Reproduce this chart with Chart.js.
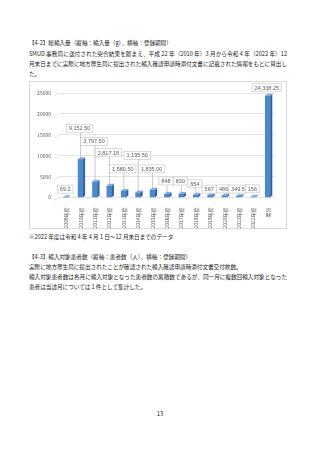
<!DOCTYPE html>
<html>
<head>
<meta charset="utf-8">
<script src="https://cdn.jsdelivr.net/npm/chart.js@4"></script>
<style>
  html, body { margin: 0; padding: 0; background: #fff; }
  body { width: 320px; height: 453px; position: relative; overflow: hidden;
         font-family: "Noto Sans CJK JP", "Noto Sans", sans-serif; color: #1a1a1a; }
  .ln { position: absolute; left: 29px; width: 258px; font-size: 5.6px; line-height: 8px; white-space: nowrap; }
  .just { text-align: justify; text-align-last: justify; }
  #box { position: absolute; left: 29px; top: 81px; width: 256px; height: 146px; border: 1px solid #d9d9d9; }
  #pg { position: absolute; left: 0; width: 320px; top: 409px; text-align: center; font-size: 6px; }
</style>
</head>
<body>
<div class="ln" style="top:39px">【4-2】総輸入量（縦軸：輸入量（g）、横軸：登録期間）</div>
<div class="ln just" style="top:50px">SMUD 事務局に送付された突合結果を踏まえ、平成 22 年（2010 年）3 月から令和 4 年（2022 年）12</div>
<div class="ln just" style="top:60px">月末日までに実際に地方厚生局に提出された輸入確認申請時添付文書に記載された情報をもとに算出し</div>
<div class="ln" style="top:70px">た。</div>

<div id="box"><canvas id="c" width="256" height="146"></canvas></div>

<div class="ln" style="top:233px">※2022 年度は令和 4 年 4 月 1 日～12 月末日までのデータ</div>
<div class="ln" style="top:253px">【4-3】輸入対象患者数（縦軸：患者数（人）、横軸：登録期間）</div>
<div class="ln" style="top:263px">実際に地方厚生局に提出されたことが確認された輸入確認申請時添付文書交付枚数。</div>
<div class="ln just" style="top:273px">輸入対象患者数は各月に輸入対象となった患者数の累積数であるが、同一月に複数回輸入対象となった</div>
<div class="ln" style="top:283px">患者は当該月については 1 件として集計した。</div>
<div id="pg">13</div>

<script>
const periods = ['2009年度', '2010年度', '2011年度', '2012年度', '2013年度', '2014年度', '2015年度',
  '2016年度', '2017年度', '2018年度', '2019年度', '2020年度', '2021年度', '2022年度', '累計'];
const importGrams = [69.2, 9152.5, 3797.5, 2817.15, 1580.5, 1195.5, 1835, 848, 830, 654, 567, 486, 349.5, 156, 24338.25];
const labelText = ['69.2', '9,152.50', '3,797.50', '2,817.15', '1,580.50', '1,195.50', '1,835.00',
  '848', '830', '654', '567', '486', '349.5', '156', '24,338.25'];
const yTicks = [0, 5000, 10000, 15000, 20000, 25000];

// how far each data label box sits above its bar (px)
const labelLift = [8, 31, 40, 33, 22, 37, 21, 13, 13, 11, 6, 6.5, 7, 8, 8];

const DEPTH = 2;

const bar3d = {
  id: 'bar3d',
  afterDatasetsDraw(chart) {
    const ctx = chart.ctx;
    chart.getDatasetMeta(0).data.forEach(b => {
      const p = b.getProps(['x', 'y', 'base', 'width'], true);
      const l = p.x - p.width / 2, r = p.x + p.width / 2;
      ctx.save();
      ctx.fillStyle = '#2d6099';
      ctx.beginPath();
      ctx.moveTo(r, p.y); ctx.lineTo(r + DEPTH, p.y - DEPTH);
      ctx.lineTo(r + DEPTH, p.base - DEPTH); ctx.lineTo(r, p.base);
      ctx.closePath(); ctx.fill();
      ctx.fillStyle = '#7eaee2';
      ctx.beginPath();
      ctx.moveTo(l, p.y); ctx.lineTo(l + DEPTH, p.y - DEPTH);
      ctx.lineTo(r + DEPTH, p.y - DEPTH); ctx.lineTo(r, p.y);
      ctx.closePath(); ctx.fill();
      ctx.restore();
    });
  }
};

const boxLabels = {
  id: 'boxLabels',
  afterDatasetsDraw(chart) {
    const ctx = chart.ctx;
    ctx.save();
    ctx.font = '5.5px "Liberation Sans", sans-serif';
    ctx.textAlign = 'center';
    ctx.textBaseline = 'middle';
    chart.getDatasetMeta(0).data.forEach((b, i) => {
      const cx = b.x - 1;
      const cy = b.y - labelLift[i];
      const w = ctx.measureText(labelText[i]).width + 5;
      const h = 8;
      if (labelLift[i] > 10) {
        ctx.strokeStyle = '#a6a6a6';
        ctx.lineWidth = 0.6;
        ctx.beginPath();
        ctx.moveTo(b.x, cy + h / 2);
        ctx.lineTo(b.x, b.y - 1);
        ctx.stroke();
      }
      ctx.fillStyle = '#fff';
      ctx.fillRect(cx - w / 2, cy - h / 2, w, h);
      ctx.strokeStyle = '#c8c8c8';
      ctx.lineWidth = 0.7;
      ctx.strokeRect(cx - w / 2, cy - h / 2, w, h);
      ctx.fillStyle = '#595959';
      ctx.fillText(labelText[i], cx, cy + 0.3);
    });
    ctx.restore();
  }
};

const wallSlant = {
  id: 'wallSlant',
  beforeDatasetsDraw(chart) {
    const ctx = chart.ctx, ys = chart.scales.y, left = chart.chartArea.left;
    ctx.save();
    ctx.strokeStyle = '#d9d9d9';
    ctx.lineWidth = 0.7;
    yTicks.forEach(t => {
      const y = ys.getPixelForValue(t);
      ctx.beginPath();
      ctx.moveTo(left - 5, y + 3);
      ctx.lineTo(left, y);
      ctx.stroke();
    });
    ctx.restore();
  }
};

Chart.defaults.font.family = '"Noto Sans CJK JP", "Liberation Sans", sans-serif';
Chart.defaults.color = '#595959';

new Chart(document.getElementById('c'), {
  type: 'bar',
  data: {
    labels: periods,
    datasets: [{
      data: importGrams,
      backgroundColor: '#4a88cf',
      borderWidth: 0,
      barThickness: 5
    }]
  },
  options: {
    responsive: false,
    animation: false,
    events: [],
    layout: { padding: { top: 10, right: 11, left: 0, bottom: 0 } },
    plugins: { legend: { display: false }, tooltip: { enabled: false } },
    scales: {
      x: {
        grid: { display: false },
        border: { display: false },
        afterFit(s) { s.height = 30.5; },
        ticks: {
          minRotation: 90, maxRotation: 90, autoSkip: false,
          padding: 2,
          font: { size: 5 }
        }
      },
      y: {
        min: 0, max: 25000,
        afterFit(s) { s.width = 29; },
        afterBuildTicks(s) { s.ticks = yTicks.map(v => ({ value: v })); },
        grid: { color: '#d9d9d9', lineWidth: 0.7, drawTicks: false },
        border: { display: false },
        ticks: {
          padding: 8,
          font: { size: 5 },
          callback: v => String(v)
        }
      }
    }
  },
  plugins: [wallSlant, bar3d, boxLabels]
});
</script>
</body>
</html>
